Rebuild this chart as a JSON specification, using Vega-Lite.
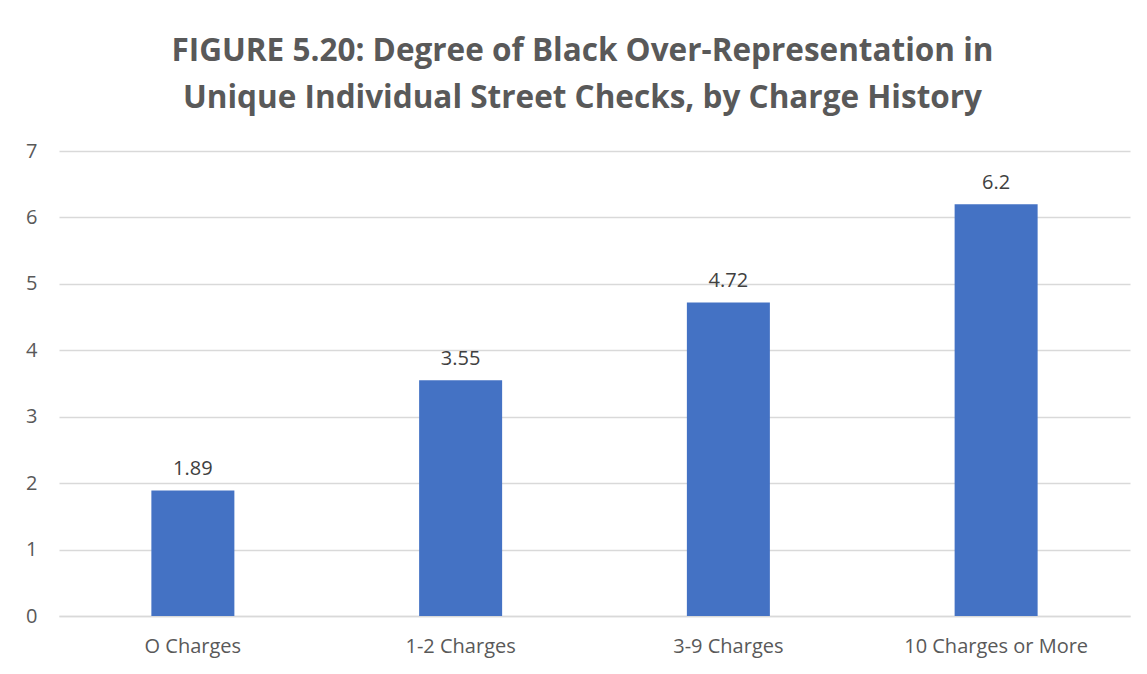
{
  "$schema": "https://vega.github.io/schema/vega-lite/v6.json",
  "width": 1071,
  "height": 465,
  "autosize": {"type": "none"},
  "padding": {"left": 59, "top": 151, "right": 17, "bottom": 58},
  "background": "white",
  "title": {
    "text": ["FIGURE 5.20: Degree of Black Over-Representation in", "Unique Individual Street Checks, by Charge History"],
    "font": "Open Sans",
    "fontSize": 31.5,
    "fontWeight": "bold",
    "color": "#595959",
    "lineHeight": 47,
    "anchor": "middle",
    "dx": -12,
    "offset": 27
  },
  "data": {
    "values": [
      {"category": "O Charges", "value": 1.89},
      {"category": "1-2 Charges", "value": 3.55},
      {"category": "3-9 Charges", "value": 4.72},
      {"category": "10 Charges or More", "value": 6.2}
    ]
  },
  "config": {
    "view": {"stroke": null},
    "font": "Open Sans"
  },
  "encoding": {
    "x": {
      "field": "category",
      "type": "nominal",
      "sort": null,
      "scale": {"paddingInner": 0.69, "paddingOuter": 0.345},
      "axis": {
        "title": null,
        "labelAngle": 0,
        "labelFontSize": 20,
        "labelColor": "#595959",
        "labelFont": "Open Sans",
        "labelPadding": 20,
        "labelLimit": 400,
        "ticks": false,
        "domainColor": "#d9d9d9",
        "domainWidth": 1.5
      }
    },
    "y": {
      "field": "value",
      "type": "quantitative",
      "scale": {"domain": [0, 7], "nice": false},
      "axis": {
        "title": null,
        "values": [0, 1, 2, 3, 4, 5, 6, 7],
        "labelOverlap": false,
        "labelFontSize": 20,
        "labelColor": "#595959",
        "labelFont": "Open Sans",
        "labelPadding": 22,
        "ticks": false,
        "domain": false,
        "gridColor": "#d9d9d9",
        "gridWidth": 1.5
      }
    }
  },
  "layer": [
    {"mark": {"type": "bar", "color": "#4472C4"}},
    {
      "mark": {"type": "text", "baseline": "bottom", "dy": -11, "fontSize": 20, "color": "#404040", "font": "Open Sans"},
      "encoding": {"text": {"field": "value", "type": "quantitative"}}
    }
  ]
}
